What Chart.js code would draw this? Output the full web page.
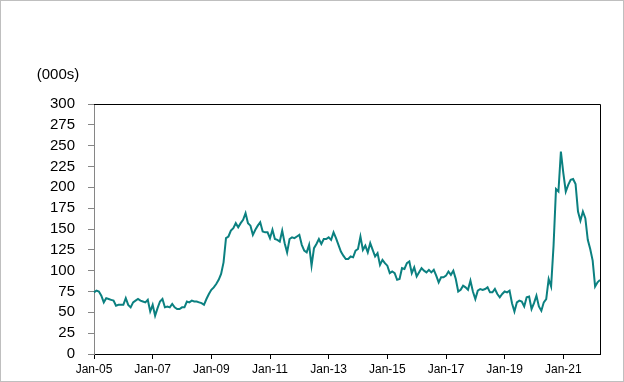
<!DOCTYPE html>
<html>
<head>
<meta charset="utf-8">
<script src="https://cdn.jsdelivr.net/npm/chart.js@4.4.1/dist/chart.umd.min.js"></script>
<style>
html, body { margin: 0; padding: 0; background: #fff; }
#wrap { width: 622px; height: 380px; border: 1px solid #bfbfbf; }
</style>
</head>
<body>
<div id="wrap"><canvas id="cntx_chart" width="622" height="380"></canvas></div>
<script>
// monthly values, thousands, Jan 2005 - Apr 2022
const y2005 = [74, 76, 75, 70, 62, 67, 66, 65, 64, 58, 59, 59];
const y2006 = [59, 67, 59, 56, 62, 64, 66, 64, 63, 62, 65, 51];
const y2007 = [59, 46, 55, 63, 66, 56, 57, 56, 60, 56, 54, 54];
const y2008 = [56, 56, 63, 62, 64, 63, 63, 62, 61, 59, 66, 72];
const y2009 = [77, 80, 84, 89, 96, 110, 139, 141, 148, 151, 157, 152];
const y2010 = [157, 161, 169, 157, 154, 143, 149, 154, 158, 147, 146, 146];
const y2011 = [139, 149, 138, 137, 135, 148, 133, 122, 138, 140, 139, 141];
const y2012 = [143, 131, 124, 122, 131, 106, 127, 132, 138, 132, 138, 138];
const y2013 = [140, 137, 146, 139, 131, 123, 118, 114, 114, 117, 116, 124];
const y2014 = [126, 141, 125, 130, 122, 133, 125, 117, 121, 107, 113, 109];
const y2015 = [106, 97, 99, 97, 89, 90, 103, 102, 109, 111, 97, 104];
const y2016 = [93, 98, 103, 100, 98, 101, 98, 101, 94, 86, 92, 92];
const y2017 = [94, 99, 95, 100, 90, 75, 77, 82, 80, 77, 88, 75];
const y2018 = [66, 76, 78, 77, 78, 80, 74, 74, 78, 72, 68, 72];
const y2019 = [75, 74, 76, 61, 51, 62, 64, 63, 57, 68, 69, 54];
const y2020 = [61, 70, 57, 52, 62, 66, 90, 81, 130, 198, 195, 243];
const y2021 = [217, 195, 203, 209, 210, 204, 171, 160, 171, 163, 137, 126];
const y2022 = [112, 81, 86, 89];

const tickLabels = ["Jan-05", "Jan-07", "Jan-09", "Jan-11", "Jan-13", "Jan-15", "Jan-17", "Jan-19", "Jan-21"];
const yTicks = [0, 25, 50, 75, 100, 125, 150, 175, 200, 225, 250, 275, 300];

const values = [].concat(y2005, y2006, y2007, y2008, y2009, y2010, y2011, y2012, y2013,
	y2014, y2015, y2016, y2017, y2018, y2019, y2020, y2021, y2022);

const monthNames = ["Jan", "Feb", "Mar", "Apr", "May", "Jun", "Jul", "Aug", "Sep", "Oct", "Nov", "Dec"];
const months = [];
for (let i = 0; i < values.length; i++) {
	const yr = 5 + Math.floor(i / 12);
	months.push(monthNames[i % 12] + "-" + String(yr).padStart(2, "0"));
}

const boxPlugin = {
	id: "box",
	afterDraw: (chart) => {
		const { ctx, chartArea: a } = chart;
		ctx.save();
		ctx.strokeStyle = "#000";
		ctx.lineWidth = 1;
		ctx.beginPath();
		ctx.moveTo(a.left, a.top + 0.5);
		ctx.lineTo(a.right + 0.5, a.top + 0.5);
		ctx.lineTo(a.right + 0.5, a.bottom);
		ctx.stroke();
		ctx.font = '15px "Liberation Sans", Arial, sans-serif';
		ctx.fillStyle = "#000";
		ctx.textAlign = "center";
		ctx.textBaseline = "middle";
		ctx.fillText("(000s)", 57, 74);
		ctx.restore();
	},
};

const canvas = document.querySelector("#cntx_chart");
const myChart = new Chart(canvas, {
	type: "line",
	data: {
		labels: months,
		datasets: [
			{
				data: values,
				borderColor: "#0b8080",
				borderWidth: 2,
				pointRadius: 0,
				tension: 0,
				fill: false,
			},
		],
	},
	options: {
		responsive: false,
		animation: false,
		devicePixelRatio: 1,
		layout: { padding: { top: 103, right: 23, left: 0, bottom: 0 } },
		plugins: { legend: { display: false }, tooltip: { enabled: false } },
		scales: {
			x: {
				type: "category",
				offset: false,
				grid: { drawOnChartArea: false, tickLength: 5, color: "#000" },
				border: { color: "#000", width: 1 },
				ticks: {
					autoSkip: false,
					maxRotation: 0,
					padding: 3,
					color: "#000",
					font: { family: '"Liberation Sans Narrow", "Liberation Sans", Arial', size: 12 },
				},
				afterBuildTicks: (s) => {
					s.ticks = s.ticks.filter((t) => tickLabels.includes(months[t.value]));
				},
				afterFit: (s) => {
					s.height = 27;
				},
			},
			y: {
				min: 0,
				max: 300,
				grid: { drawOnChartArea: false, tickLength: 6, color: "#868686" },
				border: { color: "#868686", width: 1 },
				afterBuildTicks: (s) => {
					s.ticks = yTicks.map((v) => ({ value: v }));
				},
				ticks: {
					autoSkip: false,
					padding: 13,
					color: "#000",
					font: { family: '"Liberation Sans", Arial', size: 15 },
				},
				afterFit: (s) => {
					s.width = 93;
				},
			},
		},
	},
	plugins: [boxPlugin],
});
</script>
</body>
</html>
